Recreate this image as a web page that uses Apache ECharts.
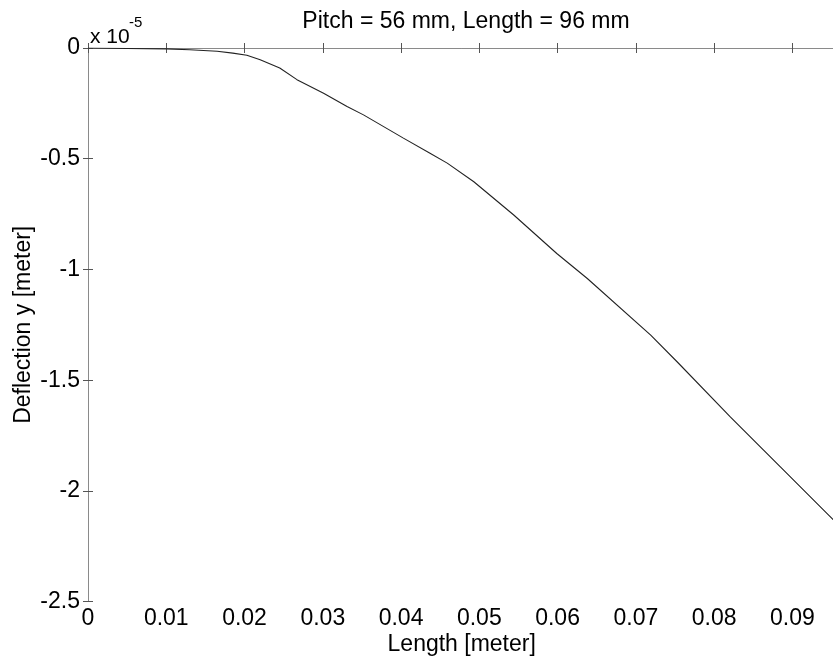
<!DOCTYPE html>
<html>
<head>
<meta charset="utf-8">
<script src="https://cdn.jsdelivr.net/npm/echarts@6/dist/echarts.min.js"></script>
<style>
html,body{margin:0;padding:0;background:#fff;overflow:hidden;width:833px;height:658px;}
#chart{width:840px;height:658px;}
</style>
</head>
<body>
<div id="chart"></div>
<script>
// Length along beam [meter]
var lengthX = [0, 0.005, 0.01, 0.013, 0.0165, 0.0185, 0.0203, 0.022, 0.0245, 0.0267, 0.0301, 0.0331, 0.0352, 0.0403, 0.0437, 0.0459, 0.0493, 0.0544, 0.0599, 0.0638, 0.0719, 0.0753, 0.0821, 0.0885, 0.0955];
// Deflection y [meter], in units of 1e-5
var deflectionY = [0, -0.002, -0.004, -0.008, -0.015, -0.023, -0.033, -0.053, -0.09, -0.143, -0.204, -0.264, -0.302, -0.407, -0.475, -0.52, -0.604, -0.754, -0.928, -1.041, -1.297, -1.418, -1.667, -1.893, -2.14];
var xTicks = [0, 0.01, 0.02, 0.03, 0.04, 0.05, 0.06, 0.07, 0.08, 0.09];
var yTicks = [0, -0.5, -1, -1.5, -2, -2.5];
var xMin = 0, xMax = 0.0955;
var yMin = -2.5, yMax = 0;
var titleText = 'Pitch = 56 mm, Length = 96 mm';

var FONT = 'Liberation Sans, Arial, sans-serif';
var chart = echarts.init(document.getElementById('chart'), null, {renderer: 'canvas'});
var pts = lengthX.map(function (x, i) { return [x, deflectionY[i]]; });
var axisLineStyle = {color: '#8a8a8a', width: 1};
var tickStyle = {color: '#555', width: 1};

chart.setOption({
  animation: false,
  backgroundColor: '#fff',
  grid: {left: 88, top: 48, width: 747.4, height: 553.6, containLabel: false, outerBoundsMode: 'none'},
  graphic: [
    {type: 'text', x: 466, y: 10, style: {text: titleText, font: '23px ' + FONT, fill: '#000', align: 'center', verticalAlign: 'top'}},
    {type: 'text', x: 90, y: 27, style: {text: 'x 10', font: '21px ' + FONT, fill: '#000', verticalAlign: 'top'}},
    {type: 'text', x: 129, y: 15, style: {text: '-5', font: '15px ' + FONT, fill: '#000', verticalAlign: 'top'}}
  ],
  xAxis: [{
    type: 'value', position: 'bottom', min: xMin, max: xMax,
    name: 'Length [meter]', nameLocation: 'middle', nameGap: 32, nameMoveOverlap: false,
    nameTextStyle: {fontSize: 23, fontFamily: FONT, color: '#000'},
    axisLine: {show: true, lineStyle: axisLineStyle},
    axisTick: {show: true, inside: true, length: 5, lineStyle: tickStyle, customValues: xTicks},
    axisLabel: {show: true, fontSize: 23, fontFamily: FONT, color: '#000', margin: 6, customValues: xTicks,
      formatter: function (v) { return String(+v.toFixed(4)); }},
    splitLine: {show: false}
  }, {
    type: 'value', position: 'top', min: xMin, max: xMax,
    axisLine: {show: true, lineStyle: axisLineStyle},
    axisTick: {show: true, inside: true, length: 5, lineStyle: tickStyle, customValues: xTicks},
    axisLabel: {show: false},
    splitLine: {show: false}
  }],
  yAxis: [{
    type: 'value', position: 'left', min: yMin, max: yMax, interval: 0.5,
    name: 'Deflection y [meter]', nameLocation: 'middle', nameGap: 53, nameMoveOverlap: false,
    nameTextStyle: {fontSize: 23, fontFamily: FONT, color: '#000'},
    axisLine: {show: true, lineStyle: axisLineStyle},
    axisTick: {show: true, inside: true, length: 5, lineStyle: tickStyle, customValues: yTicks},
    axisLabel: {show: true, fontSize: 23, fontFamily: FONT, color: '#000', margin: 8, customValues: yTicks},
    splitLine: {show: false}
  }, {
    type: 'value', position: 'right', min: yMin, max: yMax, interval: 0.5,
    axisLine: {show: true, lineStyle: axisLineStyle},
    axisTick: {show: true, inside: true, length: 5, lineStyle: tickStyle, customValues: yTicks},
    axisLabel: {show: false},
    splitLine: {show: false}
  }],
  series: [{
    type: 'line', data: pts, xAxisIndex: 0, yAxisIndex: 0,
    showSymbol: false, smooth: false,
    lineStyle: {color: '#222', width: 1.1},
    clip: true
  }]
});
</script>
</body>
</html>
